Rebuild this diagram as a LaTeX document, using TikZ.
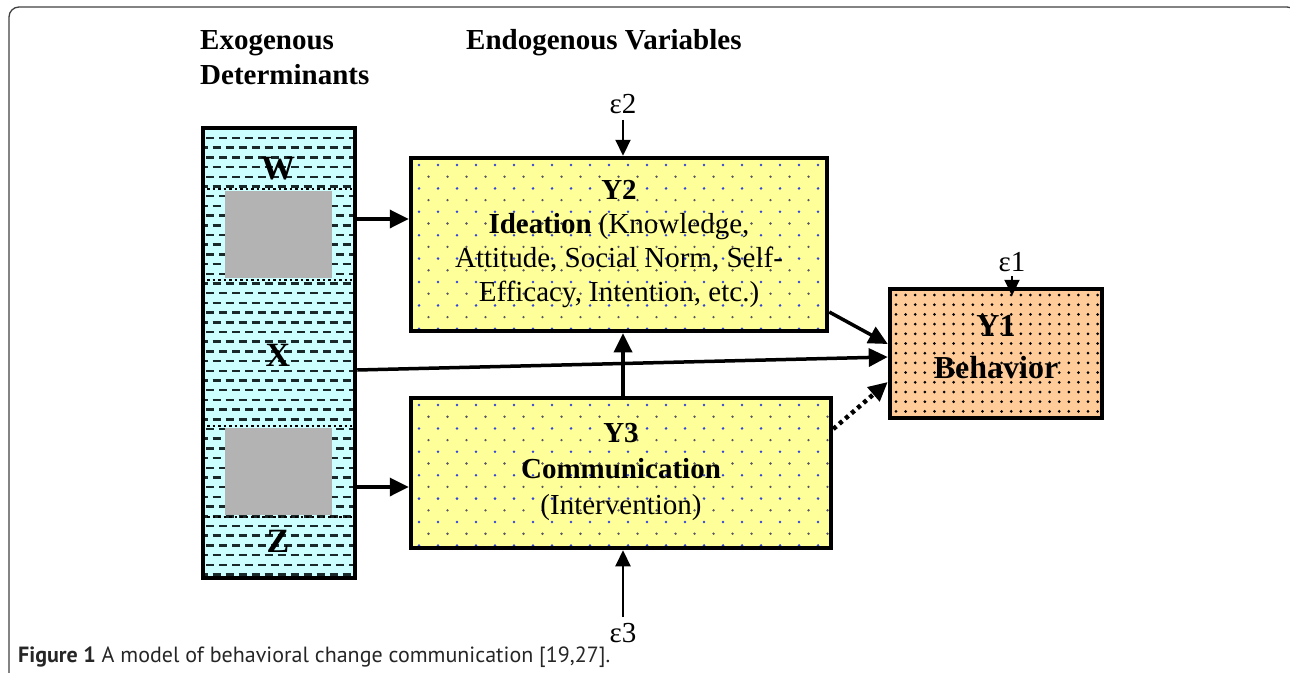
\documentclass[tikz,border=0pt]{standalone}
\usepackage{fontspec}
\setmainfont{Liberation Serif}
\newfontfamily\capfont{PT Sans}
\usetikzlibrary{arrows.meta}

\definecolor{exofill}{HTML}{CCFFFF}
\definecolor{endofill}{HTML}{FFFF99}
\definecolor{behfill}{HTML}{FFCC99}
\definecolor{grayblock}{HTML}{B3B3B3}
\definecolor{dotblue}{HTML}{3344DD}
\definecolor{dotgray}{HTML}{555566}
\definecolor{dashcol}{HTML}{1A2A2A}

\tikzset{
  box/.style={draw=black, line width=4.5pt, inner sep=0pt},
  arr/.style={line width=3.5pt, -{Triangle[length=19pt,width=18pt]}},
  errarr/.style={line width=2.2pt, -{Triangle[length=16pt,width=15pt]}},
  dotarr/.style={line width=4.5pt, dash pattern=on 4pt off 4pt, -{Triangle[length=19pt,width=18pt]}},
  txt/.style={font=\fontsize{29}{34}\selectfont, align=center, inner sep=0pt},
  head/.style={font=\fontsize{29}{35}\selectfont\bfseries, inner sep=0pt},
  letter/.style={font=\fontsize{34}{36}\selectfont\bfseries, inner sep=0pt},
  eps/.style={font=\fontsize{29}{34}\selectfont, inner sep=0pt},
  bluedots/.style={path picture={
    \foreach \j in {0,...,15}{
      \pgfmathtruncatemacro\odd{mod(\j,2)}
      \foreach \i in {0,...,22}{
        \ifnum\odd=0
          \fill[dotblue] ([xshift={\i*19pt+8pt}, yshift={-\j*11.7pt-7pt}]path picture bounding box.north west) circle[radius=1.4pt];
        \else
          \fill[dotgray] ([xshift={\i*19pt+17.5pt}, yshift={-\j*11.7pt-7pt}]path picture bounding box.north west) circle[radius=1.3pt];
        \fi
      }}}},
  blackdots/.style={path picture={
    \foreach \j in {0,...,13}{
      \foreach \i in {0,...,22}{
        \fill[black] ([xshift={\i*9.6pt+6pt}, yshift={-\j*9.7pt-6pt}]path picture bounding box.north west) circle[radius=1.5pt];
      }}}},
  dashrows/.style={path picture={
    \foreach \j in {0,...,46}{
      \draw[dashcol, line width=2.5pt, dash pattern=on 8pt off 5pt]
        ([xshift={3pt-mod(\j,2)*6.5pt}, yshift={-\j*9.7pt-10pt}]path picture bounding box.north west) --
        ([yshift={-\j*9.7pt-10pt}]path picture bounding box.north east);
      }}},
  dotline/.style={line width=2.5pt, dash pattern=on 2.5pt off 3pt, black},
}

\begin{document}
\begin{tikzpicture}[x=1pt, y=-1pt]
\useasboundingbox (0,0) rectangle (1290,672);

% figure frame
\begin{scope}
  \clip (0,0) rectangle (1290,672);
  \draw[line width=1.3pt, black!75, rounded corners=10pt]
    (9,700) -- (9,7) -- (1297,7) -- (1297,700);
\end{scope}

% column headings
\node[head, anchor=base west] (hexo1) at (200,49) {Exogenous};
\node[head, anchor=base west] (hexo2) at (200,84) {Determinants};
\node[head, anchor=base west] (hendo) at (466,49) {Endogenous Variables};

% exogenous determinants column
\node[box, fill=exofill, dashrows, minimum width=152pt, minimum height=450pt] (exo) at (279,353) {};
\node[fill=grayblock, inner sep=0pt, minimum width=107pt, minimum height=87pt] (wblock) at (278.5,234.5) {};
\node[fill=grayblock, inner sep=0pt, minimum width=107pt, minimum height=87pt] (zblock) at (278.5,471.5) {};
\draw[dotline] (207,189) -- (352,189);
\draw[dotline] (207,280) -- (352,280);
\draw[dotline] (207,426) -- (352,426);
\draw[dotline] (207,517) -- (352,517);
\node[letter] (W) at (278,169) {W};
\node[letter] (X) at (278,355) {X};
\node[letter] (Z) at (278,541) {Z};

% endogenous variables
\node[box, fill=endofill, bluedots, minimum width=416pt, minimum height=173pt] (Y2) at (619,244.5) {};
\node[txt] (Y2t) at (619,244.5) {\textbf{Y2}\\\textbf{Ideation} (Knowledge,\\Attitude, Social Norm, Self-\\Efficacy, Intention, etc.)};

\node[box, fill=endofill, bluedots, minimum width=420pt, minimum height=150pt] (Y3) at (621,473) {};
\node[txt, font=\fontsize{29}{36}\selectfont] (Y3t) at (621,472) {\textbf{Y3}\\\textbf{Communication}\\(Intervention)};

\node[box, fill=behfill, blackdots, minimum width=212pt, minimum height=129pt] (Y1) at (996,353.5) {};
\node[txt, font=\fontsize{32}{42}\selectfont\bfseries] (Y1t) at (996,347) {Y1\\Behavior};

% error terms
\node[eps] (e2) at (623,104) {ε2};
\node[eps] (e1) at (1012,262) {ε1};
\node[eps] (e3) at (623,633) {ε3};

% paths
\draw[errarr] (e2.south) ++(0,6) -- (e2.south |- Y2.north);
\draw[errarr] (e1.south) ++(0,4) -- ([yshift=-9pt]e1.south |- Y1.north);
\draw[errarr] (e3.north) ++(0,-6) -- (e3.north |- Y3.south);
\draw[arr] (e2.south |- Y3.north) -- (e2.south |- Y2.south);
\draw[arr] (exo.east |- 0,219) -- (Y2.west |- 0,219);
\draw[arr] (exo.east |- 0,487) -- (Y3.west |- 0,487);
\draw[arr] (exo.east |- 0,370) -- (Y1.west |- 0,357);
\draw[arr] (Y2.east |- 0,312) -- (Y1.west |- 0,344);
\draw[dotarr] (Y3.east |- 0,429) -- (Y1.west |- 0,382);

% caption
\node[anchor=base west, inner sep=0pt, font=\capfont\fontsize{22}{26}\selectfont, text=black!85] (cap) at (18,662)
  {\textbf{Figure 1} A model of behavioral change communication [19,27].};
\end{tikzpicture}
\end{document}
